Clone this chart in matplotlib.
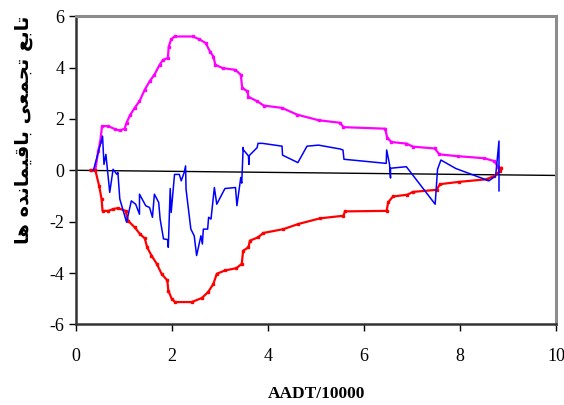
import matplotlib
matplotlib.use("Agg")
import matplotlib.pyplot as plt

plt.rcParams["axes.unicode_minus"] = False

# cumulative residuals (blue)
res_x = [0.36, 0.55, 0.58, 0.62, 0.70, 0.77, 0.85, 0.87, 0.91, 1.05, 1.15, 1.24, 1.32, 1.32,
         1.45, 1.53, 1.59, 1.63, 1.72, 1.75, 1.82, 1.91, 1.92, 1.96, 1.98, 2.05, 2.15, 2.19,
         2.25, 2.28, 2.29, 2.39, 2.46, 2.51, 2.60, 2.63, 2.65, 2.74, 2.76, 2.81, 2.88, 2.93,
         3.10, 3.32, 3.35, 3.43, 3.45, 3.48, 3.48, 3.59, 3.60, 3.60, 3.77, 3.79, 3.88, 4.29,
         4.30, 4.62, 4.81, 5.05, 5.50, 5.56, 5.58, 6.46, 6.47, 6.53, 6.55, 6.55, 6.88, 7.48,
         7.53, 7.60, 7.91, 8.60, 8.74, 8.81, 8.81]
res_y = [0.00, 1.33, 0.23, 0.62, -0.86, 0.04, -0.16, -0.09, -1.12, -2.02, -1.19, -1.32, -1.71,
         -0.93, -1.38, -1.45, -1.83, -0.93, -1.25, -1.90, -2.67, -2.70, -3.00, -0.71, -1.64,
         -0.16, -0.16, -0.41, -0.09, 0.17, -0.74, -2.29, -2.55, -3.32, -2.55, -2.87, -2.29,
         -2.29, -1.83, -1.90, -0.67, -1.32, -0.71, -0.67, -1.38, -0.28, -0.50, 0.89, 0.81,
         0.56, 0.23, 0.56, 0.88, 1.05, 1.05, 0.94, 0.59, 0.30, 0.94, 0.98, 0.83, 0.79, 0.43,
         0.27, 0.79, 0.23, -0.30, 0.08, 0.14, -1.32, 0.04, 0.40, 0.07, -0.41, -0.22, 1.14,
         -0.80]

# upper bound (magenta)
up_x = [0.30, 0.40, 0.46, 0.50, 0.54, 0.67, 0.81, 0.91, 1.01, 1.05, 1.13, 1.22, 1.32, 1.43,
        1.53, 1.63, 1.74, 1.81, 1.91, 1.93, 1.98, 2.05, 2.43, 2.57, 2.70, 2.79, 2.86, 2.90,
        3.05, 3.32, 3.43, 3.46, 3.57, 3.59, 3.77, 3.91, 4.29, 4.60, 5.05, 5.50, 5.57, 6.44,
        6.48, 6.57, 6.88, 7.02, 7.47, 7.57, 7.95, 8.50, 8.71, 8.79, 8.82]
up_y = [0.00, 0.02, 0.75, 1.10, 1.72, 1.72, 1.60, 1.55, 1.62, 1.85, 2.17, 2.43, 2.69, 3.14,
        3.46, 3.72, 4.11, 4.30, 4.37, 4.82, 5.10, 5.21, 5.21, 5.10, 4.95, 4.62, 4.43, 4.11,
        3.98, 3.91, 3.72, 3.21, 3.07, 2.86, 2.69, 2.52, 2.43, 2.17, 1.95, 1.85, 1.68, 1.62,
        1.27, 1.10, 1.04, 0.92, 0.85, 0.62, 0.55, 0.47, 0.36, 0.14, 0.00]

# lower bound (red)
lo_x = [0.30, 0.40, 0.48, 0.53, 0.55, 0.67, 0.77, 0.87, 1.03, 1.08, 1.22, 1.33, 1.43, 1.48,
        1.57, 1.68, 1.78, 1.90, 1.92, 1.99, 2.06, 2.41, 2.62, 2.75, 2.86, 2.93, 3.10, 3.34,
        3.45, 3.48, 3.59, 3.62, 3.79, 3.90, 4.32, 4.63, 5.08, 5.57, 5.60, 6.47, 6.50, 6.60,
        6.90, 7.02, 7.51, 7.58, 7.98, 8.55, 8.71, 8.83, 8.86]
lo_y = [0.00, 0.00, -0.61, -1.12, -1.58, -1.58, -1.51, -1.47, -1.58, -1.96, -2.22, -2.48,
        -2.65, -3.00, -3.32, -3.64, -4.03, -4.29, -4.68, -5.00, -5.13, -5.13, -4.97, -4.74,
        -4.42, -4.03, -3.90, -3.81, -3.64, -3.13, -3.00, -2.74, -2.61, -2.44, -2.29, -2.09,
        -1.87, -1.77, -1.60, -1.58, -1.25, -1.02, -0.95, -0.84, -0.76, -0.54, -0.45, -0.35,
        -0.22, -0.03, 0.10]

# reference line
ref_x = [0.0, 10.0]
ref_y = [0.0, -0.2]

x_ticks = [0, 2, 4, 6, 8, 10]
y_ticks = [-6, -4, -2, 0, 2, 4, 6]

# "تابع تجمعی باقیمانده ها" in shaped (presentation) forms, visual order
ylab = ("\uFE8E\uFEEB \uFEE9\uFEAA\uFEE7\uFE8E\uFEE4\uFBFF\uFED7\uFE8E\uFE91 "
        "\uFBFD\uFECC\uFEE4\uFEA0\uFE97 \uFECA\uFE91\uFE8E\uFE97")

fig = plt.figure(figsize=(5.64, 4.05), dpi=100)
ax = fig.add_axes([0.135, 0.199, 0.851, 0.761])

ax.plot(ref_x, ref_y, color="black", lw=1.0)
ax.plot(up_x, up_y, color="#FF00FF", lw=1.6, marker="s", ms=1.6)
ax.plot(lo_x, lo_y, color="#FF0000", lw=1.6, marker="s", ms=1.6)
ax.plot(res_x, res_y, color="#0000FF", lw=1.1)

ax.set_xlim(0, 10)
ax.set_ylim(-6, 6)
ax.set_xticks(x_ticks)
ax.set_yticks(y_ticks)
ax.tick_params(direction="out", length=5, width=1, labelsize=13, color="black")
ax.tick_params(axis="x", pad=12)
for lab in ax.get_xticklabels() + ax.get_yticklabels():
    lab.set_fontfamily("Liberation Serif")

for s in ["top", "right"]:
    ax.spines[s].set_color("#8c8c8c")
    ax.spines[s].set_linewidth(2.2)
for s in ["left", "bottom"]:
    ax.spines[s].set_color("#333333")
    ax.spines[s].set_linewidth(1.8)

fig.text(0.561, 0.008, "AADT/10000", family="Liberation Serif", weight="bold",
         fontsize=12.5, ha="center", va="bottom")
fig.text(0.041, 0.68, ylab, family="DejaVu Sans", weight="bold", fontsize=14,
         rotation=90, ha="center", va="center")

fig.savefig("out.png", dpi=100)
